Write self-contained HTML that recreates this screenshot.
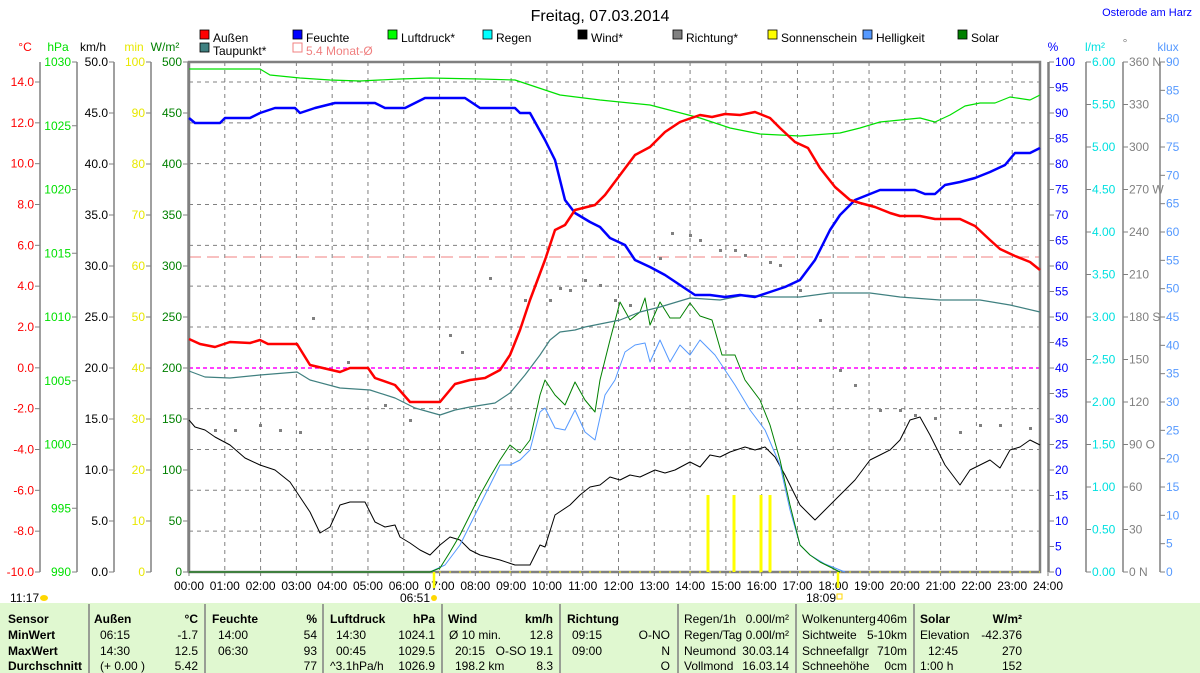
<!DOCTYPE html>
<html><head><meta charset="utf-8"><style>
body{margin:0;background:#fff;width:1200px;height:673px;overflow:hidden;font-family:"Liberation Sans",sans-serif}
svg{position:absolute;left:0;top:0}
text{font-family:"Liberation Sans",sans-serif}
</style></head><body>
<svg id="s" width="1200" height="673" font-size="12" xmlns="http://www.w3.org/2000/svg">
<rect x="0" y="603" width="1200" height="70" fill="#e0f8d0"/>
<text x="600" y="21" font-size="16" text-anchor="middle">Freitag, 07.03.2014</text>
<text x="1192" y="16" font-size="11" fill="#0000ff" text-anchor="end">Osterode am Harz</text>
<g id="g"></g>
</svg>
<script>
const g=document.getElementById('g');let h='';
const X0=189,HW=(1048-189)/24,T=62,B=572;
function L(x1,y1,x2,y2,c,w,d){h+=`<line x1="${x1}" y1="${y1}" x2="${x2}" y2="${y2}" stroke="${c}" stroke-width="${w||1}" ${d?`stroke-dasharray="${d}"`:''}/>`}
function Tx(x,y,t,c,a,extra){h+=`<text x="${x}" y="${y}" fill="${c||'#000'}" text-anchor="${a||'start'}" ${extra||''}>${t}</text>`}
for(let i=1;i<24;i++){let x=X0+i*HW;L(x,T,x,B,'#808080',1,'4,4')}
for(let i=0;i<12;i++){let y=82+i*40.83;if(i!=7)L(X0,y,1040,y,'#808080',1,'4,4')}
L(X0,257,1040,257,'#f08080',1,'12,6');
L(X0,368,1040,368,'#ff00ff',1.5,'4,3');
h+=`<rect x="189" y="62" width="851" height="510" fill="none" stroke="#808080" stroke-width="2.5"/>`;
L(1048,62,1048,572,'#808080',1.5);
function axis(lx,labels,c,y0,y1){L(lx,y0,lx,B,'#808080',1.5);const n=labels.length-1;labels.forEach((t,i)=>{let y=y0+(y1-y0)*i/n;L(lx-5,y,lx,y,'#808080',1);Tx(lx-6,y+4,t,c,'end')})}
let tc=[];for(let v=14;v>=-10;v-=2)tc.push(v.toFixed(1));
axis(40,tc,'#ff0000',82,B);L(40,62,40,82,'#808080',1.5);
axis(77,['1030','1025','1020','1015','1010','1005','1000','995','990'],'#00e000',T,B);
let km=[];for(let v=50;v>=0;v-=5)km.push(v.toFixed(1));axis(114,km,'#000',T,B);
let mn=[];for(let v=100;v>=0;v-=10)mn.push(v);axis(151,mn,'#e8e800',T,B);
let wm=[];for(let v=500;v>=0;v-=50)wm.push(v);axis(188,wm,'#008000',T,B);
Tx(25,51,'°C','#ff0000','middle');Tx(58,51,'hPa','#00e000','middle');Tx(93,51,'km/h','#000','middle');Tx(134,51,'min','#e8e800','middle');Tx(165,51,'W/m²','#008000','middle');
function raxis(lx,labels,c){L(lx,T,lx,B,'#808080',1.5);const n=labels.length-1;labels.forEach((t,i)=>{let y=T+(B-T)*i/n;L(lx,y,lx+5,y,'#808080',1);Tx(lx+6,y+4,t,c)})}
let pc=[];for(let v=100;v>=0;v-=5)pc.push(v);raxis(1049,pc,'#0000ff');
let lm=[];for(let v=6;v>=-0.01;v-=0.5)lm.push(v.toFixed(2));raxis(1086,lm,'#00e0e0');
raxis(1123,['360 N','330','300','270 W','240','210','180 S','150','120','90  O','60','30','0   N'],'#808080');
let kl=[];for(let v=90;v>=0;v-=5)kl.push(v);raxis(1160,kl,'#5599ff');
Tx(1053,51,'%','#0000ff','middle');Tx(1095,51,'l/m²','#00e0e0','middle');Tx(1125,47,'°','#808080','middle');Tx(1168,51,'klux','#5599ff','middle');
for(let i=0;i<=24;i++){let x=X0+i*HW;L(x,B,x,B+4,'#808080',1);Tx(x,590,(i<10?'0':'')+i+':00','#000','middle')}
L(X0,572,1040,572,'#ffff00',1,'2,8');
Tx(10,602,'11:17');h+=`<ellipse cx="44" cy="598" rx="4" ry="3" fill="#ffd700"/>`;
Tx(400,602,'06:51');h+=`<circle cx="434" cy="598" r="3" fill="#ffd700"/>`;L(434,572,434,588,'#ffff00',2.5);
Tx(806,602,'18:09');h+=`<rect x="837" y="594" width="5" height="5" fill="none" stroke="#ffd700"/>`;L(838,572,838,588,'#ffff00',2.5);
const leg=[['Außen','#ff0000',200,38],['Feuchte','#0000ff',293,38],['Luftdruck*','#00ff00',388,38],['Regen','#00ffff',483,38],['Wind*','#000000',578,38],['Richtung*','#808080',673,38],['Sonnenschein','#ffff00',768,38],['Helligkeit','#5599ff',863,38],['Solar','#008000',958,38],['Taupunkt*','#408080',200,51]];
leg.forEach(l=>{h+=`<rect x="${l[2]}" y="${l[3]-8}" width="9" height="9" fill="${l[1]}" stroke="#000" stroke-width="0.8"/>`;Tx(l[2]+13,l[3]+4,l[0])});
h+=`<rect x="293" y="43" width="9" height="9" fill="none" stroke="#f08080"/>`;Tx(306,55,'5.4 Monat-Ø','#f08080');
function P(pts,c,w){h+=`<polyline points="${pts}" fill="none" stroke="${c}" stroke-width="${w}" stroke-linejoin="round"/>`}
[708,734,761,770].forEach(x=>h+=`<rect x="${x-1.5}" y="495" width="3" height="77" fill="#ffff00"/>`);
[[215,430],[235,430],[260,425],[280,430],[300,432],[313,318],[348,362],[385,405],[410,420],[450,335],[462,352],[490,278],[525,300],[550,300],[560,288],[570,290],[585,280],[600,285],[615,300],[630,305],[660,258],[672,233],[690,235],[700,240],[720,250],[735,250],[745,255],[770,262],[780,265],[800,290],[820,320],[840,370],[855,385],[880,410],[900,410],[915,415],[935,418],[960,432],[980,425],[1000,425],[1030,428]].forEach(p=>h+=`<rect x="${p[0]-1}" y="${p[1]-1}" width="3" height="3" fill="#808080"/>`);
P("189,420 195,427 205,430 215,437 230,445 245,458 260,465 275,470 290,482 300,497 310,512 320,533 330,527 340,505 350,502 365,502 375,522 385,527 395,525 400,537 410,543 420,550 430,555 440,545 450,537 460,540 470,550 480,555 500,560 515,565 530,565 540,545 545,547 555,515 570,505 580,495 590,487 600,485 610,477 620,480 630,475 640,477 655,470 665,473 675,470 690,462 700,467 710,455 720,457 730,452 745,447 755,450 765,447 775,457 785,475 800,505 815,520 825,510 840,495 855,480 870,460 880,455 890,450 900,440 910,420 920,417 930,435 945,465 960,485 970,470 990,460 1000,468 1010,450 1020,447 1030,440 1040,445",'#000',1);
P("430,572 445,565 460,545 475,515 490,485 500,465 510,465 520,460 530,450 540,412 545,408 555,428 565,430 575,410 585,432 595,440 605,395 615,380 625,352 635,345 645,343 650,362 660,340 670,362 680,345 690,355 700,340 715,355 725,370 735,385 750,410 765,430 780,465 790,510 800,545 810,555 825,564 845,572",'#5599ff',1);
P("189,572 430,572 440,568 450,552 460,535 470,515 480,495 490,477 500,460 510,445 520,453 530,440 540,395 545,380 555,395 565,405 575,382 585,400 595,412 600,380 610,340 620,302 630,320 640,312 645,298 650,325 660,302 670,318 680,318 690,303 700,316 712,320 722,355 735,355 745,380 760,400 770,425 780,460 790,505 800,545 810,555 820,562 840,572",'#008000',1);
P("189,371 205,377 230,378 260,375 297,372 310,380 340,388 370,390 395,398 415,408 440,415 455,410 470,407 495,403 510,393 525,375 540,355 550,340 560,332 575,330 585,327 600,324 620,320 640,312 660,307 690,298 720,300 745,295 770,297 800,297 830,293 870,293 900,297 940,300 980,300 1010,305 1040,312",'#408080',1.2);
P("189,69 260,69 270,75 300,78 330,80 360,81 400,79 430,78 480,79 515,80 530,85 560,95 600,100 650,105 700,118 730,128 760,134 800,136 840,133 860,128 880,122 920,118 935,122 950,115 965,106 980,103 995,103 1010,97 1030,100 1040,95",'#00e000',1.2);
P("189,118 195,123 220,123 225,118 250,118 260,113 275,108 295,108 300,113 315,108 335,103 375,103 385,108 405,108 425,98 465,98 480,108 515,108 520,113 530,113 545,140 555,160 565,200 575,213 590,222 600,227 610,238 625,245 635,260 650,267 665,275 680,285 695,295 710,295 725,297 740,295 755,297 770,292 785,287 800,280 815,260 830,230 840,215 855,200 870,194 880,190 915,190 925,194 935,194 945,185 960,182 975,178 990,172 1005,165 1015,153 1030,153 1040,148",'#0000ff',2.5);
P("189,339 200,344 215,347 230,342 250,343 260,340 268,344 297,344 310,365 340,372 350,368 368,368 375,378 395,385 410,402 440,402 455,384 470,380 485,378 500,370 510,355 520,330 530,300 545,260 555,230 565,225 575,210 595,205 605,195 620,175 635,155 650,147 665,132 680,122 700,115 712,117 725,114 740,115 755,112 770,118 780,128 795,142 808,148 820,168 835,187 850,200 860,203 875,207 890,213 900,216 920,216 935,219 960,219 975,226 990,240 1000,249 1015,256 1030,262 1040,270",'#ff0000',2.5);
[89,205,323,442,560,678,796,914].forEach(x=>L(x,604,x,673,'#808080',1.5));
const rows=[619,635,651,666];
function C(x,r,t,a,b){Tx(x,rows[r]+4,t,'#000',a||'start',b?'font-weight="bold"':'')}
C(8,0,'Sensor','start',1);C(8,1,'MinWert','start',1);C(8,2,'MaxWert','start',1);C(8,3,'Durchschnitt','start',1);
C(94,0,'Außen','start',1);C(198,0,'°C','end',1);C(100,1,'06:15');C(198,1,'-1.7','end');C(100,2,'14:30');C(198,2,'12.5','end');C(100,3,'(+ 0.00 )');C(198,3,'5.42','end');
C(212,0,'Feuchte','start',1);C(317,0,'%','end',1);C(218,1,'14:00');C(317,1,'54','end');C(218,2,'06:30');C(317,2,'93','end');C(317,3,'77','end');
C(330,0,'Luftdruck','start',1);C(435,0,'hPa','end',1);C(336,1,'14:30');C(435,1,'1024.1','end');C(336,2,'00:45');C(435,2,'1029.5','end');C(330,3,'^3.1hPa/h');C(435,3,'1026.9','end');
C(448,0,'Wind','start',1);C(553,0,'km/h','end',1);C(449,1,'Ø 10 min.');C(553,1,'12.8','end');C(455,2,'20:15');C(553,2,'O-SO 19.1','end');C(455,3,'198.2 km');C(553,3,'8.3','end');
C(567,0,'Richtung','start',1);C(572,1,'09:15');C(670,1,'O-NO','end');C(572,2,'09:00');C(670,2,'N','end');C(670,3,'O','end');
C(684,0,'Regen/1h');C(789,0,'0.00l/m²','end');C(684,1,'Regen/Tag');C(789,1,'0.00l/m²','end');C(684,2,'Neumond');C(789,2,'30.03.14','end');C(684,3,'Vollmond');C(789,3,'16.03.14','end');
C(802,0,'Wolkenunterg');C(907,0,'406m','end');C(802,1,'Sichtweite');C(907,1,'5-10km','end');C(802,2,'Schneefallgr');C(907,2,'710m','end');C(802,3,'Schneehöhe');C(907,3,'0cm','end');
C(920,0,'Solar','start',1);C(1022,0,'W/m²','end',1);C(920,1,'Elevation');C(1022,1,'-42.376','end');C(928,2,'12:45');C(1022,2,'270','end');C(920,3,'1:00 h');C(1022,3,'152','end');
g.innerHTML=h;
</script>
</body></html>
